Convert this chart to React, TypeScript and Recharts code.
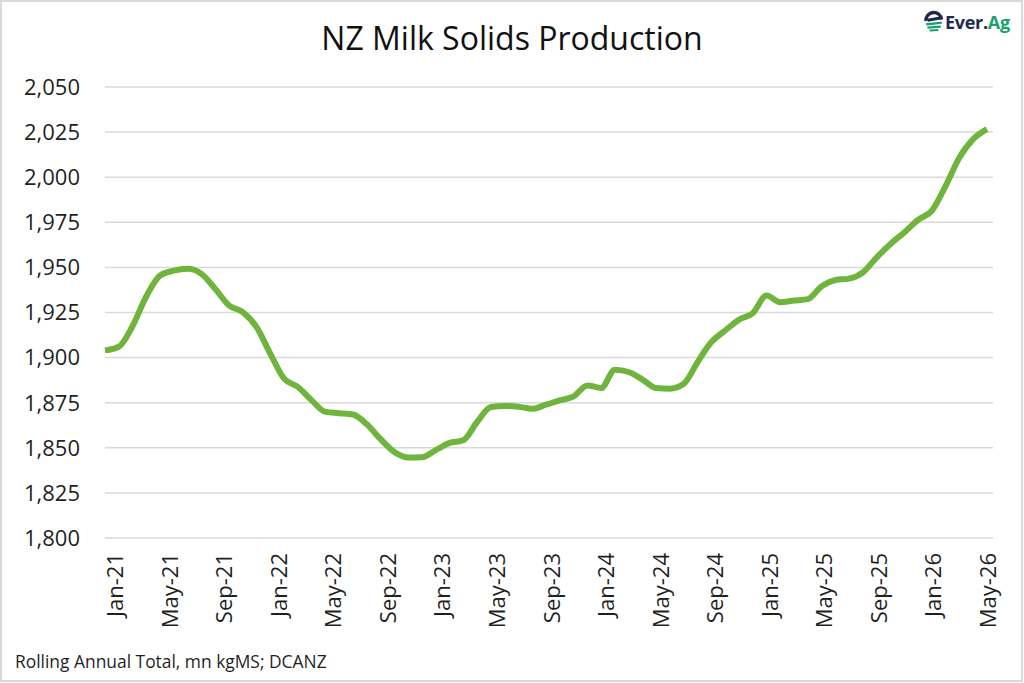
import React from "react";
import { LineChart, Line, XAxis, YAxis, CartesianGrid } from "recharts";

const months: string[] = [
  "Jan-21","Feb-21","Mar-21","Apr-21","May-21","Jun-21","Jul-21","Aug-21","Sep-21","Oct-21","Nov-21","Dec-21",
  "Jan-22","Feb-22","Mar-22","Apr-22","May-22","Jun-22","Jul-22","Aug-22","Sep-22","Oct-22","Nov-22","Dec-22",
  "Jan-23","Feb-23","Mar-23","Apr-23","May-23","Jun-23","Jul-23","Aug-23","Sep-23","Oct-23","Nov-23","Dec-23",
  "Jan-24","Feb-24","Mar-24","Apr-24","May-24","Jun-24","Jul-24","Aug-24","Sep-24","Oct-24","Nov-24","Dec-24",
  "Jan-25","Feb-25","Mar-25","Apr-25","May-25","Jun-25","Jul-25","Aug-25","Sep-25","Oct-25","Nov-25","Dec-25",
  "Jan-26","Feb-26","Mar-26","Apr-26","May-26",
];

const milkSolids: number[] = [
  1904.0, 1906.0, 1917.5, 1934.0, 1945.5, 1948.2, 1949.2, 1946.4, 1938.1, 1928.9, 1925.2, 1916.9,
  1902.1, 1888.3, 1883.7, 1876.3, 1869.9, 1869.2, 1868.5, 1863.0, 1854.8, 1847.7, 1844.6, 1844.8,
  1848.7, 1852.7, 1854.2, 1864.3, 1872.6, 1873.2, 1872.8, 1871.6, 1873.9, 1876.3, 1878.5, 1884.6,
  1883.1, 1893.3, 1892.0, 1887.8, 1883.1, 1882.8, 1885.5, 1897.5, 1908.6, 1915.0, 1921.0, 1924.6,
  1934.4, 1930.7, 1931.6, 1932.4, 1939.6, 1943.0, 1943.8, 1947.3, 1955.6, 1963.0, 1969.4, 1976.4,
  1981.4, 1995.2, 2010.9, 2021.1, 2026.6,
];

const yTicks: number[] = [1800, 1825, 1850, 1875, 1900, 1925, 1950, 1975, 2000, 2025, 2050];

const title = "NZ Milk Solids Production";
const footnote = "Rolling Annual Total, mn kgMS; DCANZ";

const data = months.map((m, i) => ({ month: m, value: milkSolids[i] }));

const FONT = "'Open Sans', 'Noto Sans', sans-serif";
const TEXT = "#1f1f1f";
const NAVY = "#1d2a4d";
const LOGO_GREEN = "#1ba06f";

const XTick = (props: any) => {
  const { x, payload } = props;
  const i = months.indexOf(payload.value);
  const dx = 9 - (9 * i) / (months.length - 1);
  return (
    <text
      transform={`translate(${x + dx},553) rotate(-90)`}
      textAnchor="end"
      dominantBaseline="central"
      fontFamily={FONT}
      fontSize={22}
      fill={TEXT}
    >
      {payload.value}
    </text>
  );
};

const fmt = (v: number) => v.toLocaleString("en-US");

export default function App() {
  return (
    <div style={{ position: "fixed", left: 0, top: 0, width: 1024, height: 683, background: "#fff" }}>
      <svg width={1024} height={683} style={{ position: "absolute", left: 0, top: 0 }}>
        <rect x={1} y={1} width={1021} height={680} fill="#fff" stroke="#d9d9d9" strokeWidth={2} />
      </svg>
      <div style={{ position: "absolute", left: 0, top: 0 }}>
        <LineChart width={1024} height={683} data={data} margin={{ top: 87, right: 31, left: 10, bottom: 45 }}>
          <CartesianGrid vertical={false} stroke="#d9d9d9" strokeWidth={1.5} />
          <XAxis
            dataKey="month"
            interval={3}
            axisLine={false}
            tickLine={false}
            tickSize={0}
            height={100}
            padding={{ left: 0, right: 6 }}
            tick={<XTick />}
          />
          <YAxis
            domain={[1800, 2050]}
            ticks={yTicks}
            width={95}
            axisLine={false}
            tickLine={false}
            tickSize={0}
            tickMargin={25}
            tickFormatter={fmt}
            tick={{ fontFamily: FONT, fontSize: 22, fill: TEXT }}
          />
          <Line
            type="monotone"
            dataKey="value"
            stroke="#6fb43c"
            strokeWidth={6}
            dot={false}
            isAnimationActive={false}
            strokeLinecap="butt"
          />
        </LineChart>
      </div>
      <svg width={1024} height={683} style={{ position: "absolute", left: 0, top: 0, pointerEvents: "none" }}>
        <text x={512} y={50} textAnchor="middle" fontFamily={FONT} fontSize={32} fill="#111">
          {title}
        </text>
        <text x={15} y={668} fontFamily={FONT} fontSize={17.4} fill={TEXT}>
          {footnote}
        </text>
        <g>
          <path d="M926 21 A7.8 7.8 0 0 1 941.6 19.5" fill="none" stroke={NAVY} strokeWidth={3.4} />
          <path d="M927.5 20.2 L941.8 17.8" stroke={NAVY} strokeWidth={3} />
          <path d="M926.2 24.2 Q933.5 23.6 941.8 22.6" fill="none" stroke={LOGO_GREEN} strokeWidth={2.4} />
          <path d="M927.4 27.6 Q934 27.2 940.8 26.6" fill="none" stroke={LOGO_GREEN} strokeWidth={2.2} />
          <path d="M929.6 30.6 Q934 30.4 938.4 30.0" fill="none" stroke={LOGO_GREEN} strokeWidth={2} />
          <text x={945} y={28.5} fontFamily={FONT} fontWeight={700} fontSize={18} fill={NAVY} letterSpacing={-0.3}>
            Ever.<tspan fill={LOGO_GREEN}>Ag</tspan>
          </text>
        </g>
      </svg>
    </div>
  );
}
